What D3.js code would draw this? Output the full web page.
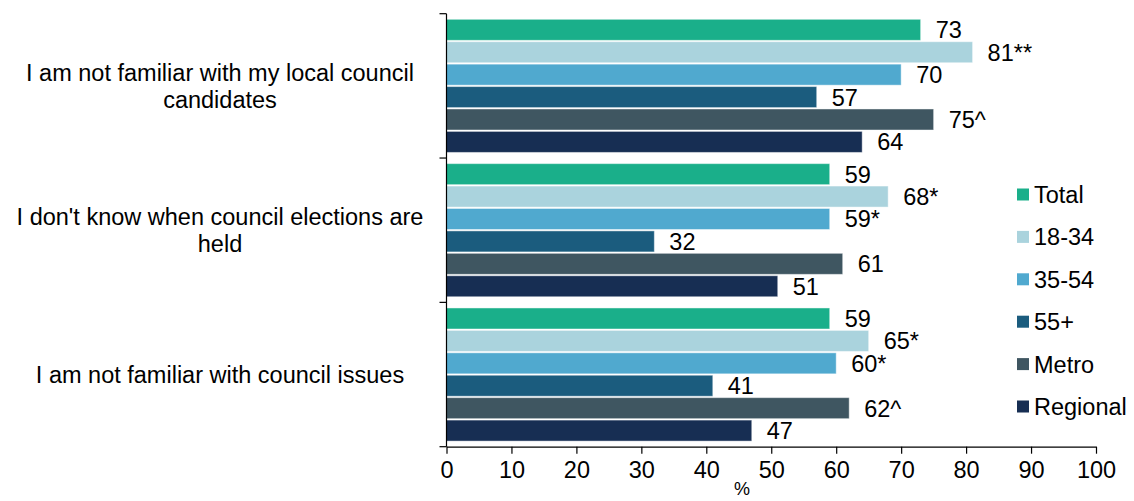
<!DOCTYPE html>
<html><head><meta charset="utf-8">
<script src="https://cdn.jsdelivr.net/npm/d3@7"></script>
<style>body{margin:0;background:#fff;}svg{display:block;font-family:Arial,"Liberation Sans",sans-serif;}</style>
</head><body>
<svg id="c" width="1134" height="501"></svg>
<script>
const categories = [
  ["I am not familiar with my local council", "candidates"],
  ["I don't know when council elections are", "held"],
  ["I am not familiar with council issues"]
];
const categoryKeys = ["c1", "c2", "c3"];
const seriesNames = ["Total", "18-34", "35-54", "55+", "Metro", "Regional"];
const seriesColors = ["#1aaf8a", "#aad3dd", "#50a9cf", "#1b5c7e", "#3f5661", "#172e53"];
const totalValues    = [73, 59, 59];
const age1834Values  = [81, 68, 65];
const age3554Values  = [70, 59, 60];
const age55Values    = [57, 32, 41];
const metroValues    = [75, 61, 62];
const regionalValues = [64, 51, 47];
const seriesValues = [totalValues, age1834Values, age3554Values, age55Values, metroValues, regionalValues];
const labelSuffixes = [
  ["", "", ""],
  ["**", "*", "*"],
  ["", "*", "*"],
  ["", "", ""],
  ["^", "", "^"],
  ["", "", ""]
];
const xTicks = [0, 10, 20, 30, 40, 50, 60, 70, 80, 90, 100];
const xTitle = "%";

const svg = d3.select("#c");
const FS = 23.5;
const x = d3.scaleLinear().domain([0, 100]).range([446.5, 1096]);
const y0 = d3.scaleBand().domain(categoryKeys).range([13.7, 446.7]).padding(0);
const y1 = d3.scaleBand().domain(seriesNames).range([0, y0.bandwidth()]).paddingInner(0.0625).paddingOuter(0.25);

const g = svg.append("g");
categoryKeys.forEach((ck, ci) => {
  const gg = g.append("g").attr("transform", `translate(0,${y0(ck)})`);
  seriesNames.forEach((s, si) => {
    const v = seriesValues[si][ci];
    gg.append("rect")
      .attr("x", x(0)).attr("y", y1(s))
      .attr("width", x(v) - x(0)).attr("height", y1.bandwidth())
      .attr("fill", seriesColors[si])
      .attr("stroke", "#ffffff").attr("stroke-opacity", 0.45).attr("stroke-width", 1);
    gg.append("text")
      .attr("x", x(v) + 15).attr("y", y1(s) + y1.bandwidth() / 2)
      .attr("dy", "0.36em").attr("font-size", FS).attr("fill", "#000")
      .text(v + labelSuffixes[si][ci]);
  });
  const lines = categories[ci];
  const lh = 27;
  const cy = y0(ck) + y0.bandwidth() / 2;
  const t = svg.append("text").attr("text-anchor", "middle").attr("font-size", FS).attr("fill", "#000");
  lines.forEach((ln, li) => {
    t.append("tspan").attr("x", 220)
      .attr("y", cy + (li - (lines.length - 1) / 2) * lh)
      .attr("dy", "0.36em").text(ln);
  });
});

// y axis (category boundaries)
const yAxisG = svg.append("g").attr("transform", `translate(${x(0)},0)`);
yAxisG.append("line").attr("x1", 0).attr("x2", 0).attr("y1", y0.range()[0]).attr("y2", y0.range()[1]).attr("stroke", "#000").attr("stroke-width", 1.2);
const bounds = categoryKeys.map(k => y0(k)).concat([y0.range()[1]]);
bounds.forEach(b => {
  yAxisG.append("line").attr("x1", -7).attr("x2", 0).attr("y1", b).attr("y2", b).attr("stroke", "#000").attr("stroke-width", 1.2);
});

// x axis
const xAxis = d3.axisBottom(x).tickValues(xTicks).tickSize(7).tickPadding(8).tickSizeOuter(0);
const xg = svg.append("g").attr("transform", `translate(0,${y0.range()[1]})`).call(xAxis);
xg.select(".domain").attr("stroke", "#000").attr("stroke-width", 1.2);
xg.selectAll(".tick line").attr("stroke", "#000").attr("stroke-width", 1.2);
xg.selectAll(".tick text").attr("font-size", FS).attr("fill", "#000").attr("font-family", "Arial, 'Liberation Sans', sans-serif");

svg.append("text").attr("x", 742).attr("y", 495).attr("text-anchor", "middle").attr("font-size", 18).attr("fill", "#000").text(xTitle);

// legend
const legend = svg.append("g");
seriesNames.forEach((s, i) => {
  const ly = 194.5 + i * 42.4;
  legend.append("rect").attr("x", 1017).attr("y", ly - 6).attr("width", 12).attr("height", 12).attr("fill", seriesColors[i]);
  legend.append("text").attr("x", 1034).attr("y", ly).attr("dy", "0.36em").attr("font-size", FS).attr("fill", "#000").text(s);
});
</script>
</body></html>
